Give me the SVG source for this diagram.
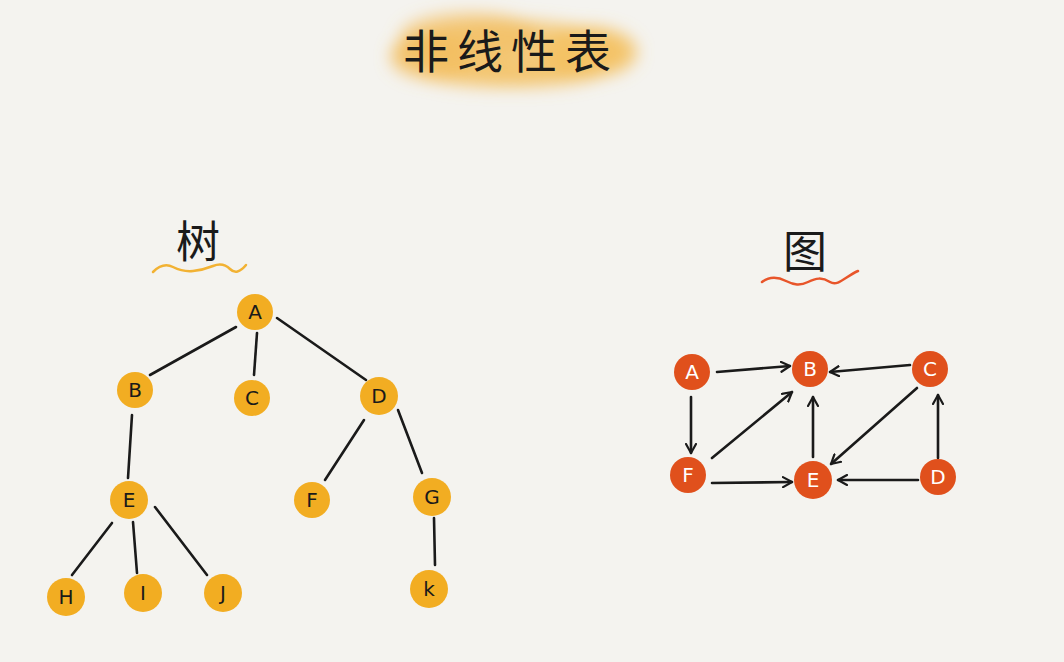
<svg xmlns="http://www.w3.org/2000/svg" width="1064" height="662" viewBox="0 0 1064 662">
<style>
.bg{fill:#f4f3ef}
.tn{fill:#f2ad22}
.gn{fill:#e0501c}
.tl{font-family:"DejaVu Sans","Liberation Sans",sans-serif;font-size:20px;fill:#1a1a1a;text-anchor:middle;dominant-baseline:central}
.gl{font-family:"DejaVu Sans","Liberation Sans",sans-serif;font-size:20px;fill:#fff;text-anchor:middle;dominant-baseline:central}
.edge{stroke:#1a1a1a;stroke-width:2.6;stroke-linecap:round;fill:none}
.arr{stroke:#1a1a1a;stroke-width:2.6;stroke-linecap:round;fill:none;marker-end:url(#ah)}
.cjk{font-family:"Noto Sans CJK SC","Noto Sans CJK JP",sans-serif;fill:#1a1a1a;text-anchor:middle}
</style>
<defs>
<marker id="ah" viewBox="0 0 12 12" refX="10" refY="6" markerWidth="12" markerHeight="12" markerUnits="userSpaceOnUse" orient="auto">
<path d="M1,1 L10,6 L1,11" fill="none" stroke="#1a1a1a" stroke-width="2.2" stroke-linecap="round" stroke-linejoin="round"/>
</marker>
<filter id="blur" x="-20%" y="-60%" width="140%" height="220%"><feGaussianBlur stdDeviation="8"/></filter>
</defs>
<rect class="bg" x="0" y="0" width="1064" height="662"/>
<g id="title">
<g filter="url(#blur)" fill="#f4bd5a">
<ellipse cx="510" cy="52" rx="118" ry="32" opacity="0.7"/>
<ellipse cx="470" cy="36" rx="70" ry="24" opacity="0.6"/>
<ellipse cx="590" cy="52" rx="48" ry="26" opacity="0.7"/>
<ellipse cx="510" cy="75" rx="90" ry="14" opacity="0.5"/>
<ellipse cx="430" cy="58" rx="40" ry="22" opacity="0.6"/>
</g>
<text class="cjk" x="511" y="68" font-size="46" letter-spacing="8">非线性表</text>
</g>
<g id="tree-label">
<text class="cjk" x="198" y="258" font-size="44">树</text>
<path d="M153,272 Q163,262 173,267 T193,271 T213,266 T230,269 T246,265" fill="none" stroke="#f2b233" stroke-width="2.5" stroke-linecap="round"/>
</g>
<g id="graph-label">
<text class="cjk" x="805" y="268" font-size="44">图</text>
<path d="M762,282 C770,276 778,277 786,281 S800,286 808,282 S822,277 830,282 S846,276 858,271" fill="none" stroke="#e8552a" stroke-width="2.5" stroke-linecap="round"/>
</g>
<g id="tree-edges">
<line class="edge" x1="236" y1="327" x2="150" y2="375"/>
<line class="edge" x1="257" y1="333" x2="254" y2="375"/>
<line class="edge" x1="277" y1="318" x2="366" y2="380"/>
<line class="edge" x1="132" y1="415" x2="128" y2="478"/>
<line class="edge" x1="364" y1="420" x2="325" y2="480"/>
<line class="edge" x1="398" y1="410" x2="422" y2="473"/>
<line class="edge" x1="112" y1="523" x2="72" y2="575"/>
<line class="edge" x1="133" y1="522" x2="137" y2="573"/>
<line class="edge" x1="155" y1="507" x2="207" y2="575"/>
<line class="edge" x1="434" y1="518" x2="435" y2="565"/>
</g>
<g id="tA"><circle class="tn" cx="255" cy="312" r="18"/><text class="tl" x="255" y="312">A</text></g>
<g id="tB"><circle class="tn" cx="135" cy="390" r="18"/><text class="tl" x="135" y="390">B</text></g>
<g id="tC"><circle class="tn" cx="252" cy="398" r="18"/><text class="tl" x="252" y="398">C</text></g>
<g id="tD"><circle class="tn" cx="379" cy="396" r="19"/><text class="tl" x="379" y="396">D</text></g>
<g id="tE"><circle class="tn" cx="129" cy="500" r="19"/><text class="tl" x="129" y="500">E</text></g>
<g id="tF"><circle class="tn" cx="312" cy="500" r="18"/><text class="tl" x="312" y="500">F</text></g>
<g id="tG"><circle class="tn" cx="432" cy="497" r="19"/><text class="tl" x="432" y="497">G</text></g>
<g id="tH"><circle class="tn" cx="66" cy="597" r="19"/><text class="tl" x="66" y="597">H</text></g>
<g id="tI"><circle class="tn" cx="143" cy="593" r="19"/><text class="tl" x="143" y="593">I</text></g>
<g id="tJ"><circle class="tn" cx="223" cy="593" r="19"/><text class="tl" x="223" y="593">J</text></g>
<g id="tK"><circle class="tn" cx="429" cy="589" r="19"/><text class="tl" x="429" y="589">k</text></g>
<g id="graph-edges">
<line class="arr" x1="717" y1="372" x2="790" y2="366"/>
<line class="arr" x1="910" y1="365" x2="830" y2="372"/>
<line class="arr" x1="691" y1="397" x2="691" y2="453"/>
<line class="arr" x1="712" y1="458" x2="792" y2="392"/>
<line class="arr" x1="712" y1="483" x2="792" y2="482"/>
<line class="arr" x1="813" y1="457" x2="813" y2="397"/>
<line class="arr" x1="917" y1="388" x2="831" y2="464"/>
<line class="arr" x1="918" y1="480" x2="838" y2="480"/>
<line class="arr" x1="938" y1="458" x2="938" y2="395"/>
</g>
<g id="gA"><circle class="gn" cx="692" cy="372" r="18"/><text class="gl" x="692" y="372">A</text></g>
<g id="gB"><circle class="gn" cx="810" cy="369" r="18"/><text class="gl" x="810" y="369">B</text></g>
<g id="gC"><circle class="gn" cx="930" cy="369" r="18"/><text class="gl" x="930" y="369">C</text></g>
<g id="gF"><circle class="gn" cx="688" cy="475" r="18"/><text class="gl" x="688" y="475">F</text></g>
<g id="gE"><circle class="gn" cx="813" cy="480" r="19"/><text class="gl" x="813" y="480">E</text></g>
<g id="gD"><circle class="gn" cx="938" cy="477" r="18"/><text class="gl" x="938" y="477">D</text></g>
</svg>
